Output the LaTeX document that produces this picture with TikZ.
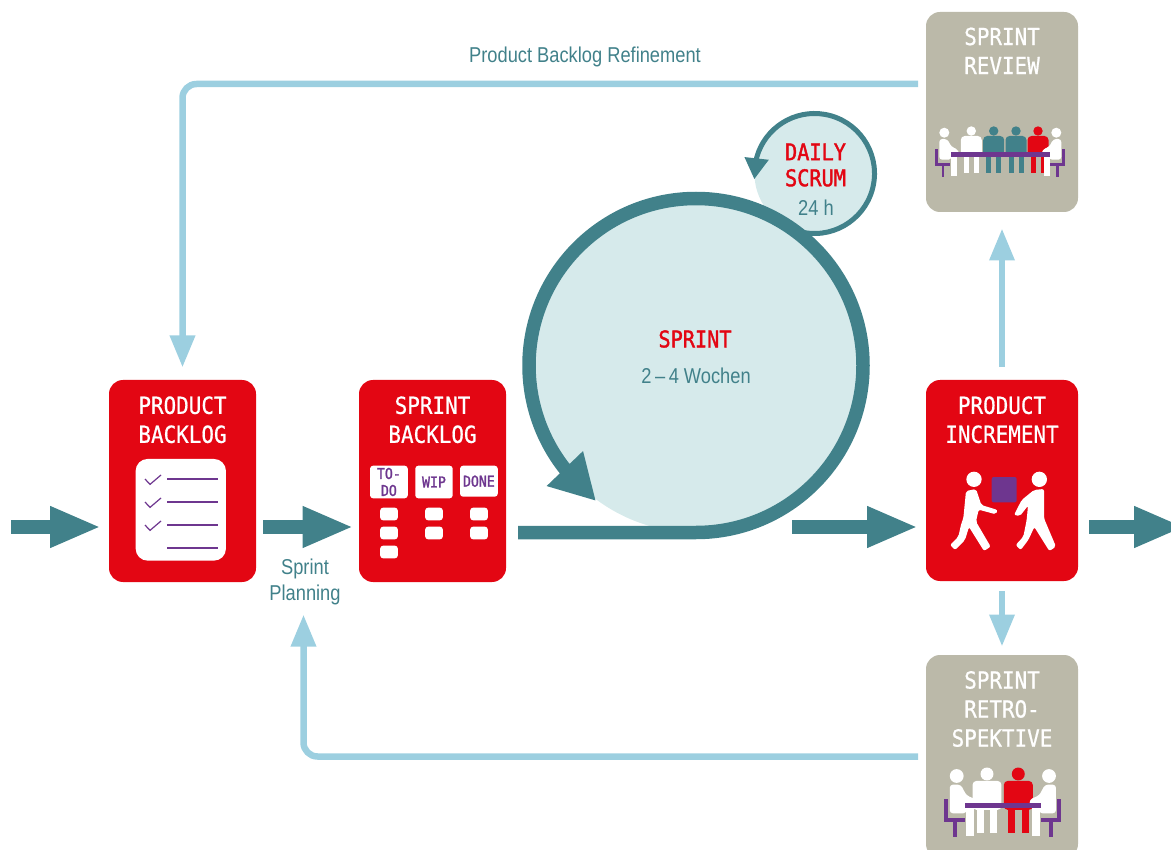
\documentclass[tikz,border=0pt]{standalone}
\usepackage{fontspec}
\setmainfont[FakeStretch=0.85]{Liberation Sans}
\newfontfamily\titlefont[FakeStretch=0.89,FakeBold=0.7]{DejaVu Sans Mono}
\newfontfamily\redfont[FakeStretch=0.88,FakeBold=1.6]{DejaVu Sans Mono}
\usetikzlibrary{arrows.meta}
\definecolor{scrumred}{HTML}{E30613}
\definecolor{scrumteal}{HTML}{41818A}
\definecolor{scrumblue}{HTML}{9CCFE0}
\definecolor{scrumpale}{HTML}{D6EAEB}
\definecolor{scrumgrey}{HTML}{BBB9A9}
\definecolor{scrumpurple}{HTML}{6E368F}
\tikzset{
  box/.style={rectangle,rounded corners=14pt,outer sep=0pt,inner sep=0pt},
  redbox/.style={box,fill=scrumred},
  greybox/.style={box,fill=scrumgrey},
  title/.style={align=center,text=white,font=\titlefont\fontsize{23.5}{29}\selectfont},
  redtitle/.style={title,text=scrumred,font=\redfont\fontsize{23}{26}\selectfont},
  label/.style={align=center,text=scrumteal,font=\fontsize{21.5}{26}\selectfont},
  card/.style={box,rounded corners=3pt,fill=white,align=center,text=scrumpurple,font=\redfont\fontsize{15}{17}\selectfont},
  tile/.style={box,rounded corners=3pt,fill=white,minimum width=17.7pt,minimum height=12.7pt},
  blockarrow/.style={draw=scrumteal,line width=14pt,-{Triangle[length=51pt,width=38pt]}},
  bluearrow/.style={draw=scrumblue,line width=6.5pt,-{Triangle[length=32pt,width=24pt]}},
  frontperson/.pic={
    \fill[pic actions] (0,0) circle[radius=4.7];
    \fill[pic actions,rounded corners=4pt] (-10.5,26) -- (-10.5,5) -- (10.5,5) -- (10.5,26) -- cycle;
    \fill[pic actions] (-7.5,25) rectangle (-2.5,42.5);
    \fill[pic actions] (2.5,25) rectangle (7.5,42.5);
  },
  sideperson/.pic={
    \fill[scrumpurple] (-9,16.6) rectangle (-6,33.3);
    \fill[scrumpurple] (-9,30.3) rectangle (6,33.3);
    \fill[scrumpurple] (-2.6,30.3) rectangle (0,44);
    \fill[white] (0,0) circle[radius=5];
    \fill[white,rounded corners=3pt] (-5,27) -- (-5,6.3) -- (3,6.3) -- (7,14) -- (14,17) -- (14,21) -- (7,22) -- (7,27) -- cycle;
    \fill[white] (6.7,20) rectangle (12.4,43.3);
  }
}
\begin{document}
\begin{tikzpicture}[x=1pt,y=-1pt]
\path[use as bounding box,clip] (0,0) rectangle (1171,850);

% boxes
\node[redbox,minimum width=147pt,minimum height=202pt] (pb) at (182.5,481) {};
\node[redbox,minimum width=147pt,minimum height=202pt] (sb) at (432.5,481) {};
\node[redbox,minimum width=152pt,minimum height=201pt] (pi) at (1002,480.5) {};
\node[greybox,minimum width=152pt,minimum height=200pt] (review) at (1002,112) {};
\node[greybox,minimum width=152pt,minimum height=203pt] (retro) at (1002,756.5) {};

\node[title] (pbtitle) at (182.5,419.8) {PRODUCT\\BACKLOG};
\node[title] (sbtitle) at (432.5,419.8) {SPRINT\\BACKLOG};
\node[title] (pititle) at (1002,419.8) {PRODUCT\\INCREMENT};
\node[title] (reviewtitle) at (1002,50.8) {SPRINT\\REVIEW};
\node[title] (retrotitle) at (1002,709) {SPRINT\\RETRO-\\SPEKTIVE};

% sprint circles
\node[circle,fill=scrumpale,outer sep=0pt,minimum size=120pt] (daily) at (814.5,173.5) {};
\coordinate (dailytip) at (754.3,179.3);
\draw[scrumteal,line width=5pt,-{Triangle[length=21pt,width=23pt]}] (daily.-100) arc[start angle=-100,end angle=164.3,radius=60pt] -- (dailytip);

\node[circle,fill=scrumpale,outer sep=0pt,minimum size=334pt] (sprint) at (696,365.5) {};
\coordinate (sprinttip) at (596,501);
\draw[scrumteal,line width=13.5pt,shorten <=12pt,-{Triangle[length=45pt,width=47pt]}] ([yshift=-51.5pt]sb.east) -- (sprint.south) arc[start angle=-90,end angle=217.6,radius=167pt] -- (sprinttip);

\node[redtitle] (dailytitle) at (815.5,165) {DAILY\\SCRUM};
\node[label] (dailytime) at (816,208) {24 h};
\node[redtitle] (sprinttitle) at (695,339) {SPRINT};
\node[label] (sprinttime) at (696,375.5) {2\,--\,4 Wochen};
\node[label] (refinement) at (585,57) {Product Backlog Refinement};
\node[label] (planning) at (305,582) {Sprint\\Planning};

% teal arrows
\coordinate (in) at (11,527);
\coordinate (sprintout) at (792,527);
\coordinate (out) at (1185,527);
\draw[blockarrow,shorten >=8pt] (in) -- ([yshift=-46pt]pb.west);
\draw[blockarrow,shorten <=7pt,shorten >=5.5pt] ([yshift=-46pt]pb.east) -- ([yshift=-46pt]sb.west);
\draw[blockarrow,shorten >=8pt] (sprintout) -- ([yshift=-46.5pt]pi.west);
\draw[blockarrow,shorten <=11pt] ([yshift=-46.5pt]pi.east) -- (out);

% blue arrows
\draw[bluearrow,rounded corners=14pt,shorten <=8pt,shorten >=12.5pt] ([yshift=28pt]review.west) -| (pb.north);
\draw[bluearrow,rounded corners=14pt,shorten <=8pt,shorten >=6pt] (retro.west) -| ([xshift=-1.5pt]planning.south);
\draw[bluearrow,shorten <=13pt,shorten >=16.5pt] (pi.north) -- (review.south);
\draw[bluearrow,shorten <=10pt,shorten >=8.5pt] (pi.south) -- (retro.north);

% product backlog list
\node[box,rounded corners=12pt,fill=white,minimum width=90.3pt,minimum height=101.7pt] (list) at (180.8,509.8) {};
\foreach \y in {0,...,3}{
  \pgfmathsetmacro{\yn}{479+\y*23}
  \draw[scrumpurple,line width=1.7pt] (167,\yn) -- (218,\yn);
  \ifnum\y<3
  \draw[scrumpurple,line width=1.2pt] (145,\yn) -- ++(5,5.4) -- ++(11,-9.4);
  \fi
}

% sprint backlog board
\node[card,minimum width=37.7pt,minimum height=32.6pt] (todo) at (388.9,482) {TO-\\DO};
\node[card,minimum width=37.4pt,minimum height=32.6pt] (wip) at (434,482) {WIP};
\node[card,minimum width=37.7pt,minimum height=31pt] (done) at (478.9,481.2) {DONE};
\foreach \x/\n in {389/3,434/2,479/2}{
  \foreach \y in {1,...,\n}{
    \pgfmathsetmacro{\yn}{495+\y*19}
    \node[tile] (tile\x-\y) at (\x,\yn) {};
  }
}

% product increment walkers
\node[box,rounded corners=2pt,fill=scrumpurple,minimum width=25pt,minimum height=25.3pt] (parcel) at (1004.2,489.7) {};
\begin{scope}[shift={(920,375)},scale=1/3]
  \fill[white] (162,313) circle[radius=23];
  \fill[white] (358,313) circle[radius=23];
  \fill[white,rounded corners=2pt] (138,348) -- (168,342) -- (184,390) -- (233,405) -- (228,418) -- (176,404) -- (168,440) -- (212,515) -- (192,528) -- (147,456) -- (135,495) -- (105,525) -- (90,510) -- (115,485) -- (124,445) -- (130,430) -- cycle;
  \fill[white,rounded corners=2pt] (342,345) -- (372,342) -- (372,430) -- (408,515) -- (388,528) -- (343,456) -- (325,495) -- (302,525) -- (287,510) -- (310,485) -- (320,435) -- (324,392) -- (300,423) -- (282,420) -- (305,375) -- cycle;
\end{scope}

% sprint review people
\foreach \x/\c in {971.3/white,993.7/scrumteal,1016/scrumteal,1038/scrumred}{
  \pic[fill=\c] at (\x,131) {frontperson};
}
\pic at (944.3,132.7) {sideperson};
\pic[xscale=-1] at (1056.3,132.7) {sideperson};
\fill[scrumpurple] (950.7,152.3) rectangle (1050,156.7);

% retrospective people
\foreach \x/\c in {987/white,1018.3/scrumred}{
  \pic[fill=\c,scale=1.38] at (\x,774) {frontperson};
}
\pic[scale=1.38] at (956.7,776) {sideperson};
\pic[xscale=-1.38,yscale=1.38] at (1049,776) {sideperson};
\fill[scrumpurple] (965,802.7) rectangle (1040.7,807.7);

\end{tikzpicture}
\end{document}
